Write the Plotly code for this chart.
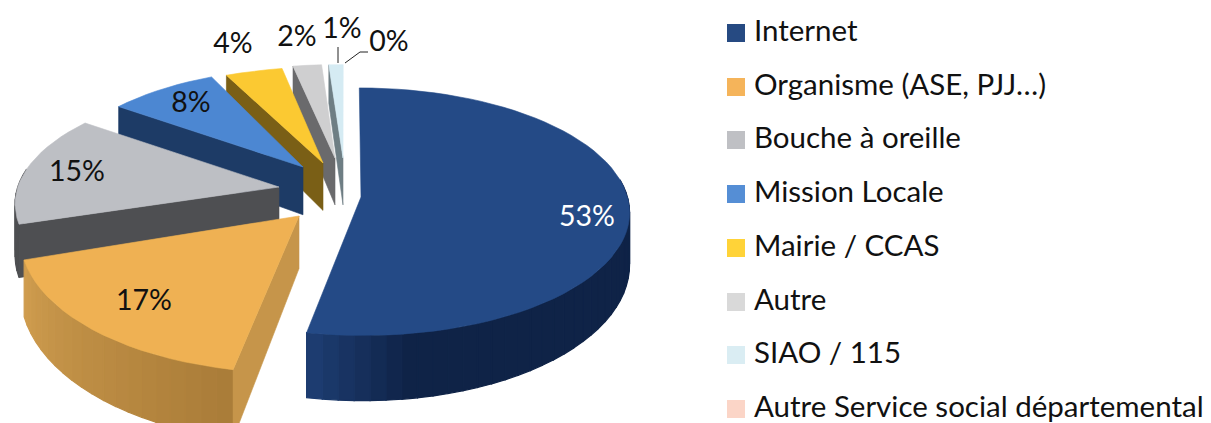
import math
import plotly.graph_objects as go

categories = ["Internet", "Organisme (ASE, PJJ…)", "Bouche à oreille", "Mission Locale",
              "Mairie / CCAS", "Autre", "SIAO / 115", "Autre Service social départemental"]
values = [53, 17, 15, 8, 4, 2, 1, 0]
percent_labels = ["53%", "17%", "15%", "8%", "4%", "2%", "1%", "0%"]

legend_colors = ["#264a82", "#f5b45a", "#bfc0c4", "#558ed5", "#ffd338", "#d9d9d9", "#daedf3", "#fbd5c7"]
top_colors = ["#244a86", "#efb153", "#bdbfc4", "#4c87d2", "#fbc932", "#cfcfd0", "#d5ebf3", "#fbd5c7"]
radial_colors = [None, "#c6954a", "#4e4f52", "#1d3b66", "#7a5f16", "#6a6a6c", "#6e7e84", "#888888"]
curve_start = ["#0f2347", "#a97c38", "#4e4f52", "#1d3b66", "#7a5f16", "#6a6a6c", "#6e7e84", "#888888"]
curve_end = ["#1e3e74", "#d09d4f", "#4e4f52", "#1d3b66", "#7a5f16", "#6a6a6c", "#6e7e84", "#888888"]

# pie geometry (pixel-based axes)
CX, CY, RX, RY, K, DEPTH = 345.0, 195.0, 262.0, 118.0, 0.115, 50.5
APEX = [(361, 197), (299, 216), (279, 187), (303, 167), (323, 163), (335, 158), (343, 158), (345, 158)]
SLICE_SCALE = [(1.015, 1.03), (1.03, 1.11), (1.005, 1.0), (0.965, 0.98), (1.0, 0.96), (1.0, 0.94), (1.0, 0.94), (1, 1)]
LABEL_POS = [(587, 219), (144, 303), (77, 174), (191, 105), (233, 46), (297, 39), (342, 31), (389, 44)]
LEADERS = [([338, 338], [47, 63]), ([368, 360, 345], [52, 52, 63])]
LEGEND_X, LEGEND_TEXT_X = 736, 754
LEGEND_Y = [33, 87, 140, 194, 248, 302, 355, 409]


def project(x, v, drop=0.0):
    s = 1.0 / (1.0 - K * v)
    return CX + RX * x * s, CY + RY * v * s + drop * s * s


def apex_world(px, py):
    q = (py - CY) / RY
    s = 1 + K * q
    return (px - CX) / (RX * s), q / s


def mix(a, b, t):
    ca = [int(a[i:i + 2], 16) for i in (1, 3, 5)]
    cb = [int(b[i:i + 2], 16) for i in (1, 3, 5)]
    return "#%02x%02x%02x" % tuple(round(p + (q - p) * t) for p, q in zip(ca, cb))


def poly(fig, pts, color, width=0.6):
    xs = [p[0] for p in pts] + [pts[0][0]]
    ys = [p[1] for p in pts] + [pts[0][1]]
    fig.add_trace(go.Scatter(x=xs, y=ys, mode="lines", fill="toself", fillcolor=color,
                             line=dict(color=color, width=width), hoverinfo="skip", showlegend=False))


fig = go.Figure()
total = sum(values)
angles = [0.0]
for val in values:
    angles.append(angles[-1] + val / total * 2 * math.pi)

order = [6, 5, 4, 3, 2, 1, 0]
for i in order:
    a0, a1 = angles[i], angles[i + 1]
    ex, ev = apex_world(*APEX[i])
    sx, sv = SLICE_SCALE[i]
    n = max(2, int((a1 - a0) / math.radians(3)))
    arc = [a0 + (a1 - a0) * j / n for j in range(n + 1)]
    outer = [(ex + sx * math.sin(a), ev - sv * math.cos(a)) for a in arc]

    # outer curved wall, front-facing part only
    for j in range(n):
        if -math.cos(arc[j]) < -0.12 and -math.cos(arc[j + 1]) < -0.12:
            continue
        t = (j + 0.5) / n
        if i == 0:
            t = max(0.0, (t - 0.9) / 0.1)
        p, q = outer[j], outer[j + 1]
        poly(fig, [project(*p), project(*q), project(*q, DEPTH), project(*p, DEPTH)],
             mix(curve_start[i], curve_end[i], t), width=1.2)

    # radial wall at the slice's starting edge
    if radial_colors[i]:
        p = outer[0]
        poly(fig, [project(ex, ev), project(*p), project(*p, DEPTH), project(ex, ev, DEPTH)], radial_colors[i])

    # top face
    poly(fig, [project(ex, ev)] + [project(*p) for p in outer], top_colors[i])

for lx, ly in LEADERS:
    fig.add_trace(go.Scatter(x=lx, y=ly, mode="lines", line=dict(color="#222222", width=1),
                             hoverinfo="skip", showlegend=False))

FONT = "Lato, Carlito, Calibri, sans-serif"
fig.add_trace(go.Scatter(
    x=[p[0] for p in LABEL_POS], y=[p[1] for p in LABEL_POS], mode="text", text=percent_labels,
    textposition="middle center",
    textfont=dict(family=FONT, size=28.5, color=["#ffffff"] + ["#111111"] * 7),
    hoverinfo="skip", showlegend=False))

fig.add_trace(go.Scatter(
    x=[LEGEND_X] * len(categories), y=LEGEND_Y, mode="markers",
    marker=dict(symbol="square", size=18, color=legend_colors, line=dict(width=0)),
    hoverinfo="skip", showlegend=False))
fig.add_trace(go.Scatter(
    x=[LEGEND_TEXT_X] * len(categories), y=[y + 1 for y in LEGEND_Y], mode="text", text=categories,
    textposition="middle right",
    textfont=dict(family=FONT, size=29.5, color="#111111"),
    hoverinfo="skip", showlegend=False))

fig.update_layout(
    width=1211, height=423, margin=dict(l=0, r=0, t=0, b=0),
    paper_bgcolor="white", plot_bgcolor="white",
    xaxis=dict(range=[0, 1211], visible=False, fixedrange=True),
    yaxis=dict(range=[423, 0], visible=False, fixedrange=True),
)
fig.write_html("out.html", config={"displayModeBar": False},
               post_script="document.body.style.margin='0';document.body.style.overflow='hidden';")
